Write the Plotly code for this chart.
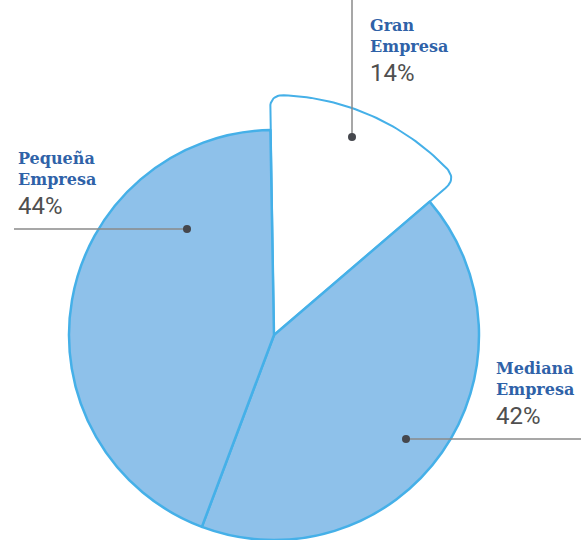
import math
import plotly.graph_objects as go

# ---------------- data ----------------
segments = ["Gran Empresa", "Mediana Empresa", "Pequeña Empresa"]
shares = [14, 42, 44]
pct_labels = ["14%", "42%", "44%"]

# ---------------- style ----------------
W, H = 581, 540
CX, CY, R = 274, 335, 205          # pie centre / radius in px (top-left origin)
HIGHLIGHT_R = 240                  # radius of the emphasised (white) slice
CORNER = 14                        # rounded corner size of emphasised slice
ROT = -1                           # start angle (deg, clockwise from 12 o'clock)

FILL_BLUE = "#8ec1ea"
EDGE_BLUE = "#45b0e8"
NAME_COL = "#2f62a8"
PCT_COL = "#4f4f4f"
LEAD_COL = "#8a8a8a"
DOT_COL = "#45474d"

# label anchors (px): text left x, first baseline y, dot (x,y), leader end
label_style = {
    "Gran Empresa":    dict(tx=368, ty=31,  dot=(352, 137), lead=("v", 0)),
    "Mediana Empresa": dict(tx=494, ty=374, dot=(406, 439), lead=("h", 581)),
    "Pequeña Empresa": dict(tx=16,  ty=164, dot=(187, 229), lead=("h", 14)),
}

fig = go.Figure()

# emphasised slice drawn larger (geometry from the data share)
total = sum(shares)
a0 = math.radians(ROT)
a1 = math.radians(ROT + 360 * shares[0] / total)


def polar(r, a):
    return CX + r * math.sin(a), CY - r * math.cos(a)


def qbez(p0, c, p1, n=12):
    pts = []
    for i in range(n + 1):
        t = i / n
        x = (1 - t) ** 2 * p0[0] + 2 * (1 - t) * t * c[0] + t ** 2 * p1[0]
        y = (1 - t) ** 2 * p0[1] + 2 * (1 - t) * t * c[1] + t ** 2 * p1[1]
        pts.append((x, y))
    return pts


d = CORNER / HIGHLIGHT_R
poly = [(CX, CY)]
poly += qbez(polar(HIGHLIGHT_R - CORNER, a0), polar(HIGHLIGHT_R, a0), polar(HIGHLIGHT_R, a0 + d))
n_arc = 40
for i in range(1, n_arc):
    a = a0 + d + (a1 - a0 - 2 * d) * i / n_arc
    poly.append(polar(HIGHLIGHT_R, a))
poly += qbez(polar(HIGHLIGHT_R, a1 - d), polar(HIGHLIGHT_R, a1), polar(HIGHLIGHT_R - CORNER, a1))
poly.append((CX, CY))

fig.add_trace(go.Scatter(
    x=[p[0] for p in poly], y=[p[1] for p in poly],
    mode="lines", fill="toself", fillcolor="white",
    line=dict(color=EDGE_BLUE, width=2), hoverinfo="skip", showlegend=False,
))

# main pie
fig.add_trace(go.Pie(
    labels=segments, values=shares, sort=False, direction="clockwise",
    rotation=ROT, textinfo="none", hoverinfo="label+percent",
    marker=dict(
        colors=["rgba(0,0,0,0)", FILL_BLUE, FILL_BLUE],
        line=dict(color=["rgba(0,0,0,0)", EDGE_BLUE, EDGE_BLUE], width=[0, 2.5, 2.5]),
    ),
    domain=dict(x=[(CX - R) / W, (CX + R) / W], y=[(H - CY - R) / H, (H - CY + R) / H]),
    showlegend=False,
))

shapes = []
annotations = []
for name, pct in zip(segments, pct_labels):
    st = label_style[name]
    dx, dy = st["dot"]
    kind, end = st["lead"]
    if kind == "v":
        shapes.append(dict(type="line", xref="x", yref="y", x0=dx, y0=end, x1=dx, y1=dy,
                           line=dict(color=LEAD_COL, width=1.5), layer="above"))
    else:
        shapes.append(dict(type="line", xref="x", yref="y", x0=end, y0=dy, x1=dx, y1=dy,
                           line=dict(color=LEAD_COL, width=1.5), layer="above"))
    shapes.append(dict(type="circle", xref="x", yref="y", x0=dx - 4, y0=dy - 4, x1=dx + 4, y1=dy + 4,
                       fillcolor=DOT_COL, line=dict(width=0), layer="above"))
    words = name.split(" ")
    for i, w in enumerate(words):
        annotations.append(dict(
            x=st["tx"], y=st["ty"] + 21 * i - 6, xref="x", yref="y", text=f"<b>{w}</b>",
            showarrow=False, xanchor="left", yanchor="middle",
            font=dict(family="DejaVu Serif", size=16, color=NAME_COL),
        ))
    annotations.append(dict(
        x=st["tx"], y=st["ty"] + 21 * (len(words) - 1) + 29 - 8, xref="x", yref="y", text=pct,
        showarrow=False, xanchor="left", yanchor="middle",
        font=dict(family="Roboto", size=24, color=PCT_COL),
    ))

fig.update_layout(
    width=W, height=H, margin=dict(l=0, r=0, t=0, b=0),
    paper_bgcolor="white", plot_bgcolor="white",
    xaxis=dict(range=[0, W], visible=False, fixedrange=True),
    yaxis=dict(range=[H, 0], visible=False, fixedrange=True),
    shapes=shapes, annotations=annotations, showlegend=False,
)

fig.write_html("out.html")
